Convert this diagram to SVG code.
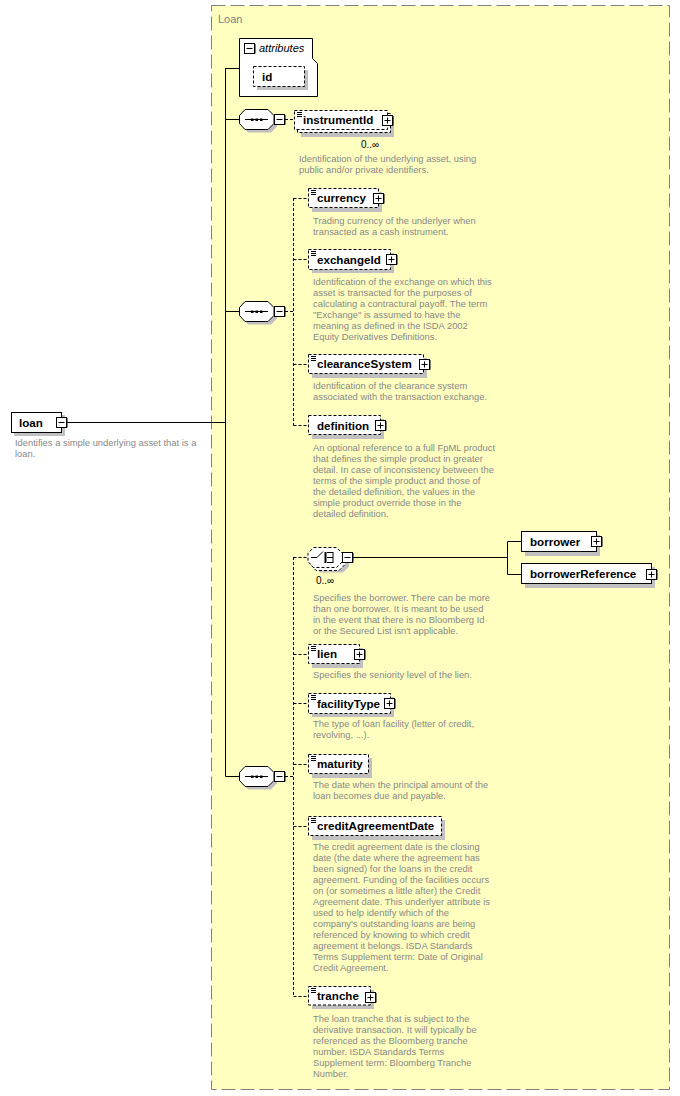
<svg xmlns="http://www.w3.org/2000/svg" xmlns:xlink="http://www.w3.org/1999/xlink" width="680" height="1096" viewBox="0 0 680 1096">
<style>
.lbl{font-family:"Liberation Sans",Arial,sans-serif;font-weight:bold;font-size:11.6px;fill:#000}
.desc{font-family:"Liberation Sans",Arial,sans-serif;font-size:9.4px;fill:#888}
.occ{font-family:"Liberation Sans",Arial,sans-serif;font-size:10px;fill:#000}
.box{fill:#fff;stroke:#000;stroke-width:1}
.dbox{fill:#fff;stroke:#000;stroke-width:1;stroke-dasharray:3 2}
.shd{fill:#c0c0c0;stroke:none}
.ln{stroke:#000;stroke-width:1;fill:none}
.dln{stroke:#000;stroke-width:1;fill:none;stroke-dasharray:3 2}
</style>
<defs>
<g id="plus"><rect x="0.5" y="0.5" width="10" height="10" fill="#fff" stroke="#000"/><path d="M1 10.5H11V1" stroke="#000" fill="none"/><path d="M2.5 5.5H8.5M5.5 2.5V8.5" stroke="#000"/></g>
<g id="minus"><rect x="0.5" y="0.5" width="10" height="10" fill="#fff" stroke="#000"/><path d="M1 10.5H11V1" stroke="#000" fill="none"/><path d="M2.5 5.5H8.5" stroke="#000"/></g>
<g id="doc"><path d="M2 2.5H7M2 4.5H7M2 6.5H7" stroke="#000" stroke-width="1"/></g>
<polygon id="oct" points="6,0.5 29,0.5 35,6.5 35,14.5 29,20.5 6,20.5 0.5,14.5 0.5,6.5"/>
<g id="seq">
<use xlink:href="#oct" x="3" y="3" fill="#c0c0c0"/>
<use xlink:href="#oct" fill="#fff" stroke="#000"/>
<path d="M6 10.5H29" stroke="#000"/>
<rect x="12" y="9.5" width="2.5" height="2.5" fill="#000"/>
<rect x="16.5" y="9.5" width="2.5" height="2.5" fill="#000"/>
<rect x="21" y="9.5" width="2.5" height="2.5" fill="#000"/>
</g>
</defs>

<g id="container">
<rect x="211.5" y="5.5" width="458" height="1084" fill="#ffffc0" stroke="#808080" stroke-dasharray="14 5"/>
<text x="218" y="23" font-family="Liberation Sans, Arial, sans-serif" font-size="11" fill="#808080">Loan</text>
</g>

<g id="connectors">
<path class="ln" d="M67 422.5H225.5M225.5 68V776.5M225.5 68.5H240M225.5 119.5H240M225.5 311.5H240M225.5 776.5H240"/>
<path class="dln" d="M285 119.5H294"/>
<path class="dln" d="M285 311.5H293.5M293.5 198V425.5M293.5 198.5H308M293.5 259.5H308M293.5 364.5H308M293.5 425.5H308"/>
<path class="dln" d="M285 776.5H293.5M293.5 557V996.5M293.5 557.5H308M293.5 654.5H308M293.5 703.5H308M293.5 764.5H308M293.5 826.5H308M293.5 996.5H308"/>
<path class="ln" d="M353 557.5H507.5M507.5 541.5V574.5M507.5 541.5H522M507.5 574.5H522"/>
</g>

<g id="loan">
<rect class="shd" x="14" y="415" width="51" height="21"/>
<rect class="box" x="11.5" y="412.5" width="50" height="20"/>
<text class="lbl" x="19" y="427">loan</text>
<use xlink:href="#minus" x="56" y="417"/>
<text class="desc" x="15" y="446">Identifies a simple underlying asset that is a</text>
<text class="desc" x="15" y="457">loan.</text>
</g>

<g id="attributes">
<path class="box" d="M239.5 38.5H312.5V58.5L317.5 63.5V96.5H239.5Z"/>
<use xlink:href="#minus" x="244" y="43"/>
<text x="259" y="52" font-family="Liberation Sans, Arial, sans-serif" font-style="italic" font-size="11">attributes</text>
<rect class="shd" x="257" y="70" width="51" height="20"/>
<rect class="dbox" x="253.5" y="66.5" width="51" height="20"/>
<text class="lbl" x="262" y="81">id</text>
</g>

<g id="seq1"><use xlink:href="#seq" x="239" y="109"/><use xlink:href="#minus" x="274" y="114"/></g>
<g id="seq2"><use xlink:href="#seq" x="239" y="301"/><use xlink:href="#minus" x="274" y="306"/></g>
<g id="seq3"><use xlink:href="#seq" x="239" y="766"/><use xlink:href="#minus" x="274" y="771"/></g>

<g id="instrumentId">
<rect class="shd" x="301" y="117" width="93" height="20"/>
<rect class="dbox" x="297.5" y="113.5" width="93" height="19"/>
<rect class="dbox" x="294.5" y="110.5" width="93" height="19"/>
<use xlink:href="#doc" x="295" y="110"/>
<text class="lbl" x="303" y="124">instrumentId</text>
<use xlink:href="#plus" x="382" y="115"/>
<text class="occ" x="361" y="148">0..∞</text>
<text class="desc" x="299" y="162">Identification of the underlying asset, using</text>
<text class="desc" x="299" y="173">public and/or private identifiers.</text>
</g>

<g id="currency">
<rect class="shd" x="312" y="192" width="70" height="20"/>
<rect class="dbox" x="308.5" y="188.5" width="70" height="19"/>
<use xlink:href="#doc" x="309" y="188"/>
<text class="lbl" x="317" y="202">currency</text>
<use xlink:href="#plus" x="373" y="193"/>
<text class="desc" x="313" y="224">Trading currency of the underlyer when</text>
<text class="desc" x="313" y="235">transacted as a cash instrument.</text>
</g>

<g id="exchangeId">
<rect class="shd" x="312" y="253" width="82" height="20"/>
<rect class="dbox" x="308.5" y="249.5" width="82" height="20"/>
<use xlink:href="#doc" x="309" y="249"/>
<text class="lbl" x="317" y="264">exchangeId</text>
<use xlink:href="#plus" x="386" y="254"/>
<text class="desc" x="313" y="285">Identification of the exchange on which this</text>
<text class="desc" x="313" y="296">asset is transacted for the purposes of</text>
<text class="desc" x="313" y="307">calculating a contractural payoff. The term</text>
<text class="desc" x="313" y="318">"Exchange" is assumed to have the</text>
<text class="desc" x="313" y="329">meaning as defined in the ISDA 2002</text>
<text class="desc" x="313" y="340">Equity Derivatives Definitions.</text>
</g>

<g id="clearanceSystem">
<rect class="shd" x="312" y="358" width="115" height="20"/>
<rect class="dbox" x="308.5" y="354.5" width="115" height="19"/>
<use xlink:href="#doc" x="309" y="354"/>
<text class="lbl" x="317" y="368">clearanceSystem</text>
<use xlink:href="#plus" x="419" y="359"/>
<text class="desc" x="313" y="389">Identification of the clearance system</text>
<text class="desc" x="313" y="400">associated with the transaction exchange.</text>
</g>

<g id="definition">
<rect class="shd" x="312" y="419" width="72" height="20"/>
<rect class="dbox" x="308.5" y="415.5" width="72" height="19"/>
<text class="lbl" x="317" y="429.5">definition</text>
<use xlink:href="#plus" x="375" y="420"/>
<text class="desc" x="313" y="451">An optional reference to a full FpML product</text>
<text class="desc" x="313" y="462">that defines the simple product in greater</text>
<text class="desc" x="313" y="473">detail. In case of inconsistency between the</text>
<text class="desc" x="313" y="484">terms of the simple product and those of</text>
<text class="desc" x="313" y="495">the detailed definition, the values in the</text>
<text class="desc" x="313" y="506">simple product override those in the</text>
<text class="desc" x="313" y="517">detailed definition.</text>
</g>

<g id="choice">
<use xlink:href="#oct" x="314" y="552" fill="#c0c0c0"/>
<use xlink:href="#oct" x="310" y="550" fill="#fff" stroke="#000" stroke-dasharray="3 2"/>
<use xlink:href="#oct" x="307.5" y="547" fill="#fff" stroke="#000" stroke-dasharray="3 2"/>
<path d="M311 557.5H317L323 551.5" stroke="#000" fill="none"/>
<path d="M325.5 552V563" stroke="#000" stroke-width="2"/>
<path d="M327 552.5H333M327 557.5H333M327 562.5H333M333 552V563" stroke="#000"/>
<use xlink:href="#minus" x="342" y="552"/>
<text class="occ" x="316" y="584">0..∞</text>
<text class="desc" x="313" y="600.5">Specifies the borrower. There can be more</text>
<text class="desc" x="313" y="611.5">than one borrower. It is meant to be used</text>
<text class="desc" x="313" y="622.5">in the event that there is no Bloomberg Id</text>
<text class="desc" x="313" y="633.5">or the Secured List isn't applicable.</text>
</g>

<g id="borrower">
<rect class="shd" x="525" y="535" width="75" height="21"/>
<rect class="box" x="521.5" y="531.5" width="75" height="20"/>
<text class="lbl" x="530" y="545.5">borrower</text>
<use xlink:href="#plus" x="591" y="536"/>
</g>

<g id="borrowerReference">
<rect class="shd" x="525" y="567" width="130" height="21"/>
<rect class="box" x="521.5" y="563.5" width="130" height="20"/>
<text class="lbl" x="530" y="578">borrowerReference</text>
<use xlink:href="#plus" x="646" y="569"/>
</g>

<g id="lien">
<rect class="shd" x="312" y="648" width="51" height="20"/>
<rect class="dbox" x="308.5" y="644.5" width="51" height="19"/>
<use xlink:href="#doc" x="309" y="644"/>
<text class="lbl" x="317" y="658">lien</text>
<use xlink:href="#plus" x="354" y="649"/>
<text class="desc" x="313" y="677.5">Specifies the seniority level of the lien.</text>
</g>

<g id="facilityType">
<rect class="shd" x="312" y="697" width="82" height="20"/>
<rect class="dbox" x="308.5" y="693.5" width="82" height="20"/>
<use xlink:href="#doc" x="309" y="693"/>
<text class="lbl" x="317" y="707.5">facilityType</text>
<use xlink:href="#plus" x="384" y="698"/>
<text class="desc" x="313" y="727">The type of loan facility (letter of credit,</text>
<text class="desc" x="313" y="738">revolving, ...).</text>
</g>

<g id="maturity">
<rect class="shd" x="312" y="758" width="60" height="20"/>
<rect class="dbox" x="308.5" y="754.5" width="60" height="19"/>
<use xlink:href="#doc" x="309" y="754"/>
<text class="lbl" x="317" y="768">maturity</text>
<text class="desc" x="313" y="788">The date when the principal amount of the</text>
<text class="desc" x="313" y="799">loan becomes due and payable.</text>
</g>

<g id="creditAgreementDate">
<rect class="shd" x="312" y="820" width="133" height="20"/>
<rect class="dbox" x="308.5" y="816.5" width="133" height="19"/>
<use xlink:href="#doc" x="309" y="816"/>
<text class="lbl" x="317" y="830">creditAgreementDate</text>
<text class="desc" x="313" y="850">The credit agreement date is the closing</text>
<text class="desc" x="313" y="861">date (the date where the agreement has</text>
<text class="desc" x="313" y="872">been signed) for the loans in the credit</text>
<text class="desc" x="313" y="883">agreement. Funding of the facilities occurs</text>
<text class="desc" x="313" y="894">on (or sometimes a little after) the Credit</text>
<text class="desc" x="313" y="905">Agreement date. This underlyer attribute is</text>
<text class="desc" x="313" y="916">used to help identify which of the</text>
<text class="desc" x="313" y="927">company's outstanding loans are being</text>
<text class="desc" x="313" y="938">referenced by knowing to which credit</text>
<text class="desc" x="313" y="949">agreement it belongs. ISDA Standards</text>
<text class="desc" x="313" y="960">Terms Supplement term: Date of Original</text>
<text class="desc" x="313" y="971">Credit Agreement.</text>
</g>

<g id="tranche">
<rect class="shd" x="312" y="990" width="62" height="19"/>
<rect class="dbox" x="308.5" y="986.5" width="62" height="18.5"/>
<use xlink:href="#doc" x="309" y="986"/>
<text class="lbl" x="317" y="1000">tranche</text>
<use xlink:href="#plus" x="365" y="992"/>
<text class="desc" x="313" y="1022">The loan tranche that is subject to the</text>
<text class="desc" x="313" y="1033">derivative transaction. It will typically be</text>
<text class="desc" x="313" y="1044">referenced as the Bloomberg tranche</text>
<text class="desc" x="313" y="1055">number. ISDA Standards Terms</text>
<text class="desc" x="313" y="1066">Supplement term: Bloomberg Tranche</text>
<text class="desc" x="313" y="1077">Number.</text>
</g>
</svg>
